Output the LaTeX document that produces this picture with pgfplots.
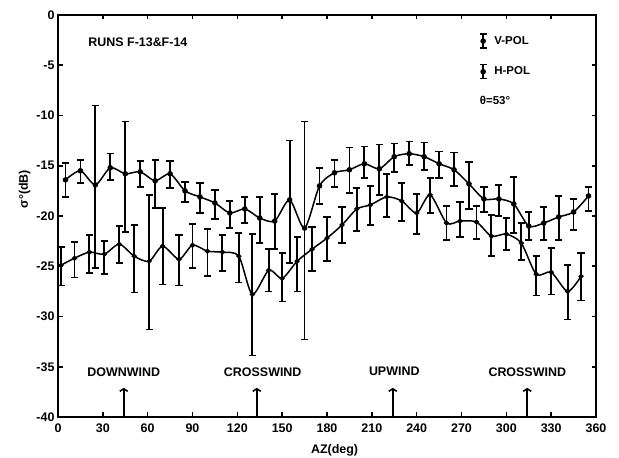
\documentclass[border=0pt]{standalone}
\usepackage{fontspec}
\setmainfont{Liberation Sans}
\usepackage{pgfplots}
\usepackage{pgfplotstable}
\pgfplotsset{compat=1.18}
\usetikzlibrary{arrows.meta}

% V-POL (upper curve): azimuth, sigma0, error up, error down
\pgfplotstableread{
x y ep em
5 -16.4 1.7 1.7
15 -15.5 1.1 1.2
25 -16.9 7.9 8.3
35 -15.2 1.4 1.2
45 -15.8 5.2 5.8
55 -15.6 1.1 1.5
65 -16.5 2.1 2.7
75 -15.8 1.3 1.4
85 -17.5 0.9 1.1
95 -18.1 1.4 1.6
105 -18.7 1.3 1.6
115 -19.7 1.2 1.5
125 -19.3 1.2 1.4
135 -20.2 2.1 2.5
145 -20.5 2.7 2.8
155 -18.4 5.9 6.3
165 -21.2 10.6 11.1
175 -17.0 1.8 1.8
185 -15.7 1.3 1.4
195 -15.4 2.2 2.3
205 -14.8 1.7 1.4
215 -15.3 2.4 2.6
225 -14.1 1.3 1.5
235 -13.8 1.2 1.1
245 -14.1 1.4 1.3
255 -14.8 1.2 1.4
265 -15.4 1.7 1.6
275 -16.8 2.2 2.5
285 -18.3 1.2 1.3
295 -18.3 1.4 1.7
305 -18.8 2.7 2.9
315 -21.0 1.4 1.4
325 -20.7 1.6 1.7
335 -20.1 2.1 2.3
345 -19.6 1.3 1.8
355 -18.0 0.9 1.5
}\vpol

% H-POL (lower curve)
\pgfplotstableread{
x y ep em
2 -24.9 1.8 2.0
11 -24.2 1.6 1.9
21 -23.6 1.7 2.1
31 -23.8 1.3 2.0
41 -22.8 1.8 1.9
51 -24.0 3.1 3.6
61 -24.5 6.6 6.8
70 -23.0 3.8 3.8
81 -24.3 2.4 2.6
90 -22.9 2.1 2.3
100 -23.5 2.2 2.5
110 -23.6 1.7 1.9
121 -24.0 2.3 2.6
130 -27.8 6.0 6.1
141 -25.4 2.1 2.1
150 -26.2 2.5 2.3
160 -24.5 2.4 3.0
170 -23.3 2.2 2.2
180 -22.2 2.1 2.3
190 -20.9 1.8 1.8
200 -19.3 2.1 2.2
209 -18.9 1.9 2.0
220 -18.1 2.3 2.0
230 -18.5 1.8 2.0
240 -19.7 1.9 2.1
249 -17.9 1.7 1.8
260 -20.7 1.7 1.7
269 -20.5 1.9 1.6
280 -20.6 1.6 1.7
290 -22.0 2.1 2.0
300 -21.8 1.6 1.6
310 -22.7 2.0 1.7
320 -25.8 1.8 2.1
330 -25.6 2.4 2.2
341 -27.5 2.6 2.8
350 -26.0 2.3 2.4
}\hpol

\pgfplotsset{
  ebarlegend/.style={legend image code/.code={
    \draw[line width=1.6bp] (3.5bp,-7bp) -- (3.5bp,7bp);
    \draw[line width=1.5bp] (0bp,7bp) -- (7bp,7bp);
    \draw[line width=1.5bp] (0bp,-7bp) -- (7bp,-7bp);
    \fill (3.5bp,0bp) circle (2bp);}},
  ebars/.style={error bars/.cd, y dir=both, y explicit,
    error bar style={line width=1.8bp},
    error mark options={rotate=90, mark size=3.6bp, line width=1.6bp}},
}
\tikzset{
  windarrow/.style={line width=1.9bp, -{Straight Barb[width=8bp,length=2.5bp,line width=1.6bp]}},
  annot/.style={font=\fontsize{12.5}{14}\selectfont\bfseries},
}

\begin{document}
\begin{tikzpicture}
\useasboundingbox (-58bp,-41bp) rectangle (561bp,417bp);
\begin{axis}[
  scale only axis, width=538bp, height=402bp,
  xmin=0, xmax=360, ymin=-40, ymax=0,
  xtick={0,30,...,360}, ytick={-40,-35,...,0},
  tick align=inside, tick pos=both, ticklabel pos=left,
  axis line style={line width=2bp},
  major tick length=4.5bp,
  every tick/.style={line width=1.6bp, black},
  tick label style={font=\fontsize{12.5}{14}\selectfont\bfseries},
  xticklabel style={yshift=-3bp},
  /pgf/number format/assume math mode=true,
  xlabel={AZ(deg)}, ylabel={σ°(dB)},
  label style={font=\fontsize{12.5}{14}\selectfont\bfseries},
  xlabel style={at={(axis description cs:0.514,-0.082)}, anchor=center},
  ylabel style={at={(axis description cs:-0.062,0.567)}, anchor=center},
  clip=false,
  legend style={at={(axis cs:281.5,-1.8)}, anchor=north west, draw=none, fill=none,
    inner sep=0pt, row sep=15bp, column sep=5bp,
    font=\fontsize{11.5}{13}\selectfont\bfseries, cells={anchor=west}},
]
\addplot[black, line width=1.5bp, smooth, tension=0.45, mark=*, mark size=2bp,
  mark options={fill=black, solid}, ebarlegend, ebars]
  table[x=x, y=y, y error plus=ep, y error minus=em] {\vpol};
\addlegendentry{V-POL}
\addplot[black, line width=1.5bp, smooth, tension=0.45, mark=*, mark size=1.8bp,
  mark options={fill=black, solid}, ebarlegend, ebars]
  table[x=x, y=y, y error plus=ep, y error minus=em] {\hpol};
\addlegendentry{H-POL}

\node[annot, anchor=west] at (axis cs:18,-2.7) {RUNS F-13\&F-14};
\node[anchor=west, font=\fontsize{11.5}{13}\selectfont\bfseries] at (axis cs:280,-8.5) {θ=53°};

% wind direction markers
\draw[windarrow] (axis cs:44,-40) -- (axis cs:44,-37.1);
\draw[windarrow] (axis cs:133,-40) -- (axis cs:133,-37.1);
\draw[windarrow] (axis cs:224,-40) -- (axis cs:224,-37.1);
\draw[windarrow] (axis cs:314,-40) -- (axis cs:314,-37.1);
\node[annot] at (axis cs:44,-35.5) {DOWNWIND};
\node[annot] at (axis cs:137,-35.5) {CROSSWIND};
\node[annot] at (axis cs:225,-35.5) {UPWIND};
\node[annot] at (axis cs:314,-35.5) {CROSSWIND};
\end{axis}
\end{tikzpicture}
\end{document}
